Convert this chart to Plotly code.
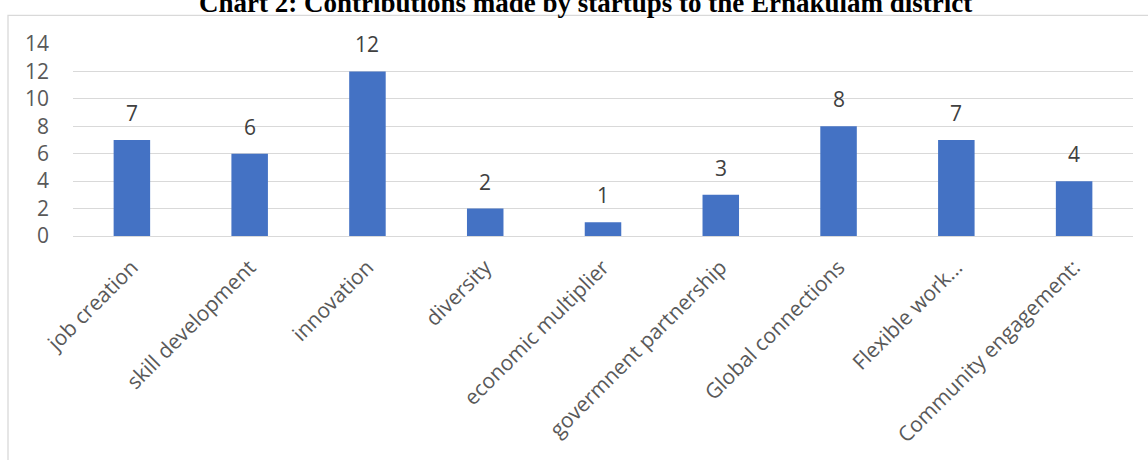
import plotly.graph_objects as go

categories = ["job creation", "skill development", "innovation", "diversity",
              "economic multiplier", "govermnent partnership", "Global connections",
              "Flexible work...", "Community engagement:"]
values = [7, 6, 12, 2, 1, 3, 8, 7, 4]
y_ticks = [0, 2, 4, 6, 8, 10, 12, 14]
title_text = "Chart 2: Contributions made by startups to the Ernakulam district"

W, H = 1148, 460
ML, MR, MT, MB = 73, 15, 44, 221
pw, ph = W - ML - MR, H - MT - MB

def px_x(p):
    return (p - ML) / pw

def px_y(p):
    return (H - MB - p) / ph

fig = go.Figure(go.Bar(
    x=categories, y=values,
    marker=dict(color="#4472C4", line=dict(width=0)),
    hoverinfo="x+y",
))

for c, v in zip(categories, values):
    fig.add_annotation(x=c, y=v, text=str(v), showarrow=False,
                       yanchor="bottom", yshift=11,
                       font=dict(family="Open Sans", size=21, color="#404040"))

fig.add_annotation(xref="paper", yref="paper", x=px_x(585), y=px_y(20),
                   text="<b>" + title_text + "</b>", showarrow=False,
                   xanchor="center", yanchor="bottom",
                   font=dict(family="Liberation Serif", size=27, color="#000000"))

fig.add_shape(type="rect", xref="paper", yref="paper",
              x0=px_x(8), x1=px_x(1160), y0=px_y(480), y1=px_y(15),
              line=dict(color="#D9D9D9", width=1.3), fillcolor="rgba(0,0,0,0)",
              layer="below")

fig.update_layout(
    width=W, height=H,
    margin=dict(l=ML, r=MR, t=MT, b=MB, pad=0),
    paper_bgcolor="white", plot_bgcolor="white",
    bargap=0.69,
    showlegend=False,
    font=dict(family="Open Sans", color="#595959"),
)
fig.update_xaxes(
    tickangle=-45, tickfont=dict(family="Open Sans", size=21, color="#595959"),
    showgrid=False, showline=False, ticks="", ticklabelstandoff=14,
)
fig.update_yaxes(
    range=[0, 14], tickvals=y_ticks, tickfont=dict(family="Open Sans", size=21, color="#595959"),
    showgrid=True, gridcolor="#D9D9D9", gridwidth=1.3,
    zeroline=True, zerolinecolor="#D9D9D9", zerolinewidth=1.3,
    showline=False, ticks="", ticklabelstandoff=23,
)

fig.write_html("out.html", config={"displayModeBar": False},
               post_script="document.body.style.margin='0px';")
